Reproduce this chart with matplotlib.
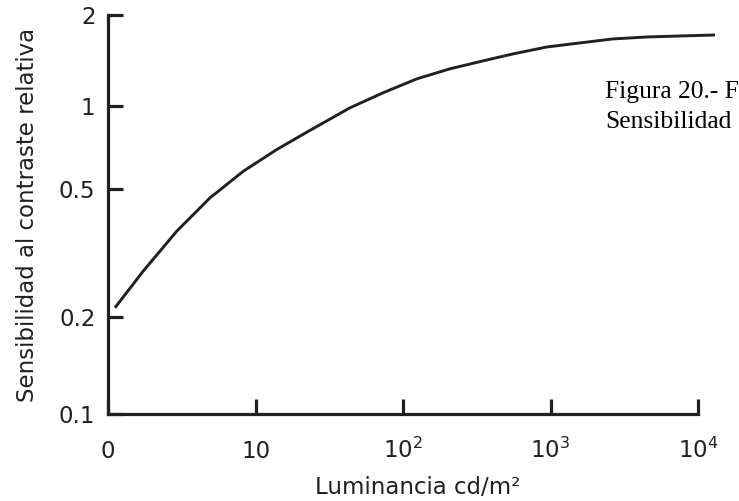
import numpy as np
import matplotlib
matplotlib.use("Agg")
import matplotlib.pyplot as plt

plt.rcParams['font.family'] = ['DejaVu Sans']
plt.rcParams['mathtext.fontset'] = 'dejavusans'

# ---- data ----
luminance = [1.115, 1.735, 2.923, 4.915, 8.266, 13.92, 23.41, 43.7, 73.2,
             124, 208, 349, 557, 947, 1585, 2653, 4510, 7551, 13040]
sensitivity = [0.214, 0.278, 0.369, 0.468, 0.578, 0.693, 0.814, 0.983, 1.104,
               1.228, 1.326, 1.409, 1.486, 1.567, 1.616, 1.666, 1.691, 1.704, 1.717]

x_ticks = [1, 10, 100, 1000, 10000]
x_tick_labels = ['0', '10', '$10^2$', '$10^3$', '$10^4$']
y_ticks = [0.1, 0.2, 0.5, 1, 2]
y_tick_labels = ['0.1', '0.2', '0.5', '1', '2']

# y axis of the original is only approximately logarithmic:
# relative positions of its tick marks (log10 value -> position)
Y_LOG = np.log10(y_ticks)
Y_POS = np.array([0.0, 97.0, 226.0, 309.0, 400.0])


def _pw(v, xs, ys):
    v = np.asarray(v, dtype=float)
    out = np.interp(v, xs, ys)
    lo = v < xs[0]
    hi = v > xs[-1]
    s0 = (ys[1] - ys[0]) / (xs[1] - xs[0])
    s1 = (ys[-1] - ys[-2]) / (xs[-1] - xs[-2])
    out = np.where(lo, ys[0] + (v - xs[0]) * s0, out)
    out = np.where(hi, ys[-1] + (v - xs[-1]) * s1, out)
    return out


def fwd(y):
    y = np.clip(np.asarray(y, dtype=float), 1e-6, None)
    return _pw(np.log10(y), Y_LOG, Y_POS)


def inv(p):
    return 10 ** _pw(p, Y_POS, Y_LOG)


INK = '#231f20'
FS = 16.5

fig = plt.figure(figsize=(7.39, 5.01), dpi=100)
ax = fig.add_axes([108 / 739, 87 / 501, 619.5 / 739, 399 / 501])

ax.plot(luminance, sensitivity, color=INK, lw=2.1, solid_capstyle='butt',
        solid_joinstyle='round', clip_on=False)

ax.set_xscale('log')
ax.set_yscale('function', functions=(fwd, inv))
ax.set_xlim(1, 10 ** 4.2)
ax.set_ylim(0.1, 2)

ax.set_xticks(x_ticks)
ax.set_xticklabels(x_tick_labels)
ax.xaxis.set_minor_locator(matplotlib.ticker.NullLocator())
ax.set_yticks(y_ticks)
ax.set_yticklabels(y_tick_labels)
ax.yaxis.set_minor_locator(matplotlib.ticker.NullLocator())

for side in ['top', 'right']:
    ax.spines[side].set_visible(False)
for side in ['left', 'bottom']:
    ax.spines[side].set_color(INK)
    ax.spines[side].set_linewidth(2.3)
    ax.spines[side].set_capstyle('projecting')
ax.spines['bottom'].set_bounds(1, 10000)
ax.spines['left'].set_bounds(0.1, 2)

ax.tick_params(axis='both', direction='in', length=11, width=2.3, color=INK,
               labelsize=FS, labelcolor=INK)
ax.tick_params(axis='y', pad=9)
ax.tick_params(axis='x', pad=31.5)
for t in ax.xaxis.get_major_ticks():
    t.label1.set_va('baseline')
    t.tick1line.set_clip_on(False)
for t in ax.yaxis.get_major_ticks():
    t.tick1line.set_clip_on(False)

ax.set_xlabel('Luminancia cd/m²', fontsize=FS, color=INK)
ax.xaxis.set_label_coords(0.5, -0.155)
ax.set_ylabel('Sensibilidad al contraste relativa', fontsize=FS, color=INK)
ax.yaxis.set_label_coords(-0.112, 0.5)

fig.text(605 / 739, 1 - 98 / 501, 'Figura 20.- F', family='Liberation Serif',
         fontsize=18.4, color='black', va='baseline', ha='left')
fig.text(605 / 739, 1 - 128 / 501, 'Sensibilidad', family='Liberation Serif',
         fontsize=18.4, color='black', va='baseline', ha='left')

fig.savefig('out.png', dpi=100)
